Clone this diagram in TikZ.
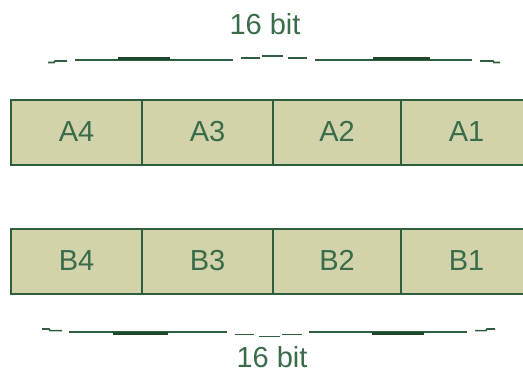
\documentclass[tikz,border=0pt]{standalone}
\usepackage{fontspec}
\setmainfont{Liberation Sans}
\definecolor{frame}{HTML}{2E5E3E}
\definecolor{bracedark}{HTML}{1C4A2A}
\definecolor{cellfill}{HTML}{D2D2AB}
\definecolor{ink}{HTML}{3A6C4A}
\begin{document}
\begin{tikzpicture}[x=1pt,y=-1pt,
  cell/.style={draw=frame, fill=cellfill, line width=1.8pt, minimum height=65pt,
    inner sep=0pt, text height=22pt, text depth=4pt,
    font=\fontsize{29}{35}\selectfont, text=ink},
  widthlabel/.style={anchor=base, inner sep=0pt, font=\fontsize{29}{35}\selectfont, text=ink},
  braceline/.style={draw=frame, line width=1.6pt},
  bracemid/.style={draw=bracedark, line width=2.8pt}]
\useasboundingbox (0,0) rectangle (523,374);

% register A
\node[cell, minimum width=131pt] (a4) at (76.5,132.5) {A4};
\node[cell, minimum width=131pt] (a3) at (207.5,132.5) {A3};
\node[cell, minimum width=128pt] (a2) at (337,132.5) {A2};
\node[cell, minimum width=131pt] (a1) at (466.5,132.5) {A1};

% register B
\node[cell, minimum width=131pt] (b4) at (76.5,261.5) {B4};
\node[cell, minimum width=131pt] (b3) at (207.5,261.5) {B3};
\node[cell, minimum width=128pt] (b2) at (337,261.5) {B2};
\node[cell, minimum width=131pt] (b1) at (466.5,261.5) {B1};

% width labels
\node[widthlabel] (topwidth) at (265,35) {16 bit};
\node[widthlabel] (botwidth) at (272,367.5) {16 bit};

% upper brace (drawn as a broken line)
\draw[braceline] (48,62.5) -- (54,62.5) -- (55,61) -- (67,61);
\draw[braceline] (75,60) -- (233,60);
\draw[bracemid] (118,58.6) -- (170,58.6);
\draw[braceline] (241,58.3) -- (260,58.3);
\draw[braceline] (262,56) -- (283,56);
\draw[braceline] (288,58.3) -- (307,58.3);
\draw[braceline] (315,60) -- (472,60);
\draw[bracemid] (373,58.6) -- (430,58.6);
\draw[braceline] (480,61) -- (493,61) -- (494,62.5) -- (500,62.5);

% lower brace
\draw[braceline] (42,329) -- (49,329) -- (50,330.7) -- (62,330.7);
\draw[braceline] (69,332.3) -- (227,332.3);
\draw[bracemid] (113,333.7) -- (168,333.7);
\draw[braceline] (235,334.7) -- (254,334.7);
\draw[braceline] (259,336.7) -- (280,336.7);
\draw[braceline] (282,334.7) -- (302,334.7);
\draw[braceline] (309,332.3) -- (467,332.3);
\draw[bracemid] (372,333.7) -- (424,333.7);
\draw[braceline] (475,330.7) -- (486,330.7) -- (487,329) -- (495,329);
\end{tikzpicture}
\end{document}
